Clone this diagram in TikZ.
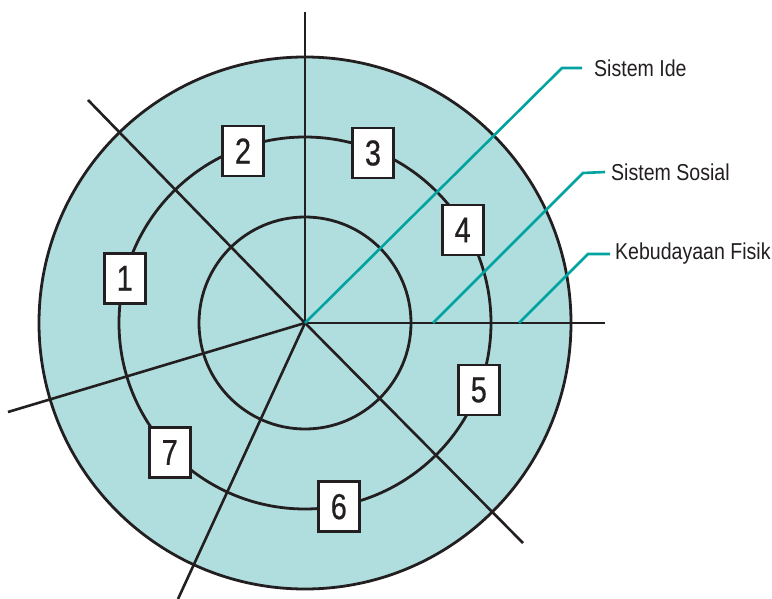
\documentclass[tikz,border=0pt]{standalone}
\usepackage{fontspec}
\setmainfont[FakeStretch=0.85]{Liberation Sans}
\newfontfamily\digitfont[FakeStretch=0.8,FakeBold=0.6]{Liberation Sans}
\definecolor{fillteal}{RGB}{176,222,222}
\definecolor{lineteal}{RGB}{0,163,160}
\definecolor{ink}{RGB}{35,31,32}
\tikzset{
  ring/.style={draw=ink, line width=2.8pt},
  spoke/.style={draw=ink, line width=2.6pt},
  numbox/.style={draw=ink, fill=white, line width=2.8pt, minimum width=41pt, minimum height=50pt, inner sep=0pt, font=\digitfont\fontsize{36}{36}\selectfont, text=ink},
  pointer/.style={draw=lineteal, line width=2.6pt},
  lbl/.style={anchor=west, inner sep=0pt, font=\fontsize{23}{23}\selectfont, text=ink}
}
\begin{document}
\begin{tikzpicture}[x=1pt,y=-1pt]
\useasboundingbox (0,0) rectangle (772,599);
\fill[white] (0,0) rectangle (772,599);
\coordinate (c) at (305,323);
% circles
\filldraw[ring, fill=fillteal] (c) circle[radius=266];
\draw[ring] (c) circle[radius=186];
\draw[ring] (c) circle[radius=106];
% spokes
\coordinate (sN) at (305,12);
\coordinate (sE) at (605,323);
\coordinate (sNW) at (88,100);
\coordinate (sSE) at (523,543);
\coordinate (sW) at (8,412);
\coordinate (sS) at (178,599);
\foreach \p in {sN,sE,sNW,sSE,sW,sS} \draw[spoke] (c) -- (\p);
% pointers
\coordinate (p1) at (562,68);
\coordinate (p2) at (583,173);
\coordinate (p3) at (588,254);
\coordinate (q2) at (433,323);
\coordinate (q3) at (519,323);
\node[lbl] (l1) at (594,68) {Sistem Ide};
\node[lbl] (l2) at (611,172) {Sistem Sosial};
\node[lbl] (l3) at (615,254) {Kebudayaan Fisik};
\draw[pointer] (c) -- (p1) -- ([xshift=-12pt]l1.west);
\draw[pointer] (q2) -- (p2) -- ([xshift=-6pt]l2.west);
\draw[pointer] (q3) -- (p3) -- ([xshift=-5pt]l3.west);
% numbered boxes
\node[numbox] (b1) at (124.7,278.3) {1};
\node[numbox] (b2) at (243,151) {2};
\node[numbox] (b3) at (373,153) {3};
\node[numbox] (b4) at (462.7,230) {4};
\node[numbox] (b5) at (478.8,390) {5};
\node[numbox] (b6) at (338.8,506.7) {6};
\node[numbox] (b7) at (169.7,452.5) {7};
\end{tikzpicture}
\end{document}
